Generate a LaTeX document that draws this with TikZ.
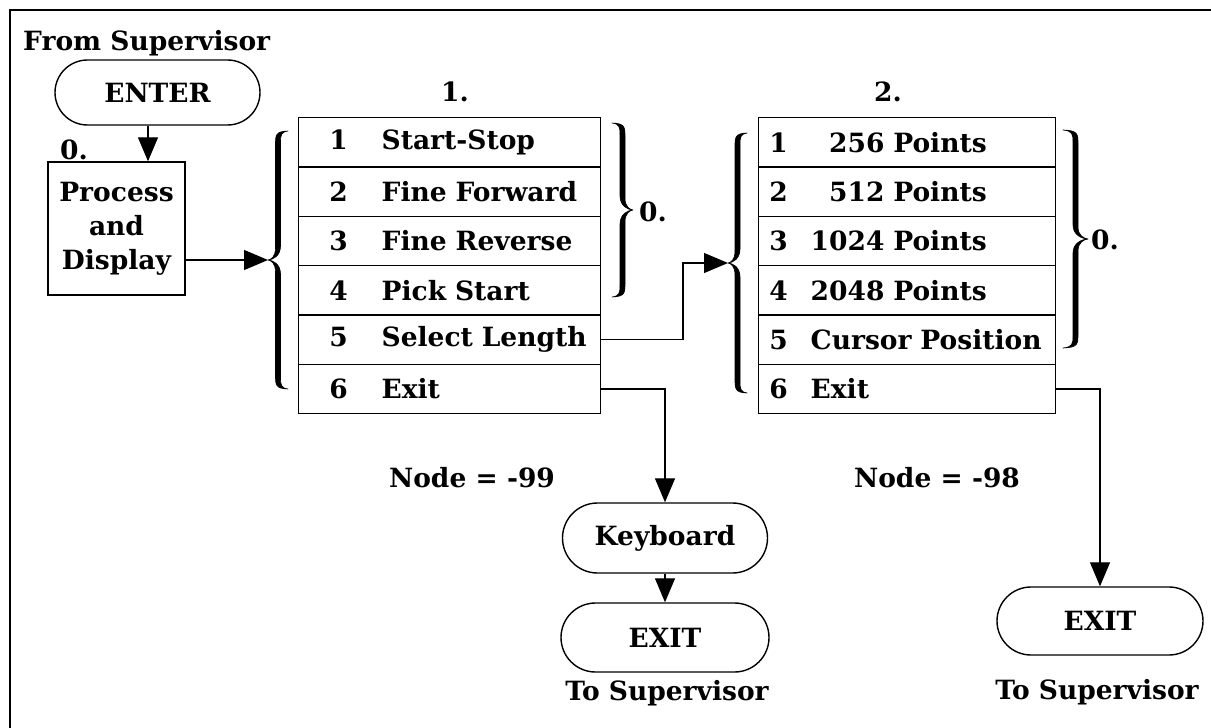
\documentclass[tikz,border=0pt]{standalone}
\usepackage{fontspec}
\setmainfont{DejaVu Serif}
\usetikzlibrary{shapes.misc, arrows.meta, calc}
\newcommand{\rowA}[2]{\hspace*{31pt}\makebox[18pt][c]{#1}\hspace*{34pt}#2}
\newcommand{\rowB}[2]{\hspace*{11pt}\makebox[18pt][c]{#1}\hspace*{23pt}#2}
\tikzset{
  pics/curlybrace/.style 2 args={code={
    \filldraw[line width=0.6pt, line join=round]
      (#2,-#1) .. controls (0.5*#2-2.5,-#1+0.5) and (0.5*#2-2.5,-#1+4) .. (0.5*#2-2.5,-#1+14)
      -- (0.5*#2-2.5,-12) .. controls (0.5*#2-2.5,-3) and (0.15*#2,-0.5) .. (0,0)
      .. controls (0.15*#2,0.5) and (0.5*#2-2.5,3) .. (0.5*#2-2.5,12)
      -- (0.5*#2-2.5,#1-14) .. controls (0.5*#2-2.5,#1-4) and (0.5*#2-2.5,#1-0.5) .. (#2,#1)
      .. controls (0.5*#2+3,#1-1) and (0.5*#2+2.5,#1-4) .. (0.5*#2+2.5,#1-12)
      -- (0.5*#2+2.5,14) .. controls (0.5*#2+2.5,4) and (0.25*#2,0.3) .. (0,0)
      .. controls (0.25*#2,-0.3) and (0.5*#2+2.5,-4) .. (0.5*#2+2.5,-14)
      -- (0.5*#2+2.5,-#1+12) .. controls (0.5*#2+2.5,-#1+4) and (0.5*#2+3,-#1+1) .. (#2,-#1) -- cycle;
  }}
}
\begin{document}
\begin{tikzpicture}[x=1pt,y=-1pt,
  every node/.style={font=\fontsize{26.5}{34}\selectfont\bfseries},
  term/.style={draw, rounded rectangle, line width=1.4pt, inner sep=0pt},
  procbox/.style={draw, rectangle, line width=1.4pt, minimum width=137pt, minimum height=133pt, align=center, inner sep=0pt},
  rowa/.style={draw, line width=1.4pt, minimum height=49.33pt, text width=302pt, inner xsep=0pt, inner ysep=0pt, align=left, anchor=north west},
  rowb/.style={draw, line width=1.4pt, minimum height=49.33pt, text width=297pt, inner xsep=0pt, inner ysep=0pt, align=left, anchor=north west},
  arr/.style={-{Triangle[length=24pt,width=20pt]}, line width=1.2pt},
  lbl/.style={inner sep=0pt}
]
\useasboundingbox (0,0) rectangle (1211,728);
\draw[line width=1.5pt] (10,728) -- (10,10) -- (1211,10);

\node[lbl, anchor=west] (from) at (23,43) {From Supervisor};
\node[term, minimum width=205pt, minimum height=65pt] (enter) at (157.5,92.5) {ENTER};
\node[procbox] (proc) at (116.5,228.5) {Process\\and\\Display};
\node[lbl] (zero0) at (74,150) {0.};

% table 1
\node[lbl] (one) at (455,92) {1.};
\node[rowa] (t1r1) at (298,117) {\rowA{1}{Start-Stop}};
\node[rowa] (t1r2) at (298,166.33) {\rowA{2}{Fine Forward}};
\node[rowa] (t1r3) at (298,215.67) {\rowA{3}{Fine Reverse}};
\node[rowa] (t1r4) at (298,265) {\rowA{4}{Pick Start}};
\node[rowa] (t1r5) at (298,314.33) {\rowA{5}{Select Length}};
\node[rowa] (t1r6) at (298,363.67) {\rowA{6}{Exit}};

% table 2
\node[lbl] (two) at (888,92) {2.};
\node[rowb] (t2r1) at (758,117) {\rowB{1}{\phantom{1}256 Points}};
\node[rowb] (t2r2) at (758,166.33) {\rowB{2}{\phantom{1}512 Points}};
\node[rowb] (t2r3) at (758,215.67) {\rowB{3}{1024 Points}};
\node[rowb] (t2r4) at (758,265) {\rowB{4}{2048 Points}};
\node[rowb] (t2r5) at (758,314.33) {\rowB{5}{Cursor Position}};
\node[rowb] (t2r6) at (758,363.67) {\rowB{6}{Exit}};

% braces
\coordinate (b1) at (268,260);
\pic at (b1) {curlybrace={129}{20}};
\coordinate (b2) at (633,210);
\pic[xscale=-1] at (b2) {curlybrace={87}{21}};
\node[lbl] (zero1) at (653,212) {0.};
\coordinate (b3) at (728,263);
\pic at (b3) {curlybrace={130}{19}};
\coordinate (b4) at (1088,239);
\pic[xscale=-1] at (b4) {curlybrace={109}{25}};
\node[lbl] (zero2) at (1105,240) {0.};

\node[lbl] (n99) at (472,478) {Node = -99};
\node[lbl] (n98) at (937,478) {Node = -98};

\node[term, minimum width=205pt, minimum height=70pt] (kbd) at (665,538) {Keyboard};
\node[term, minimum width=208pt, minimum height=69pt] (exit1) at (665,637.5) {EXIT};
\node[lbl] (to1) at (667,693) {To Supervisor};
\node[term, minimum width=206pt, minimum height=68pt] (exit2) at (1100,621) {EXIT};
\node[lbl] (to2) at (1097,692) {To Supervisor};

% connectors
\coordinate (ea) at (148,0);
\coordinate (jx) at (683,0);
\draw[arr] (enter.south -| ea) -- (proc.north -| ea);
\draw[arr] (proc.east |- b1) -- (b1);
\draw[arr] (t1r5.east) -| (jx |- b3) -- (b3);
\draw[arr] (t1r6.east) -| (kbd.north);
\draw[arr] (kbd.south) -- (exit1.north);
\draw[arr] (t2r6.east) -| (exit2.north);
\end{tikzpicture}
\end{document}
